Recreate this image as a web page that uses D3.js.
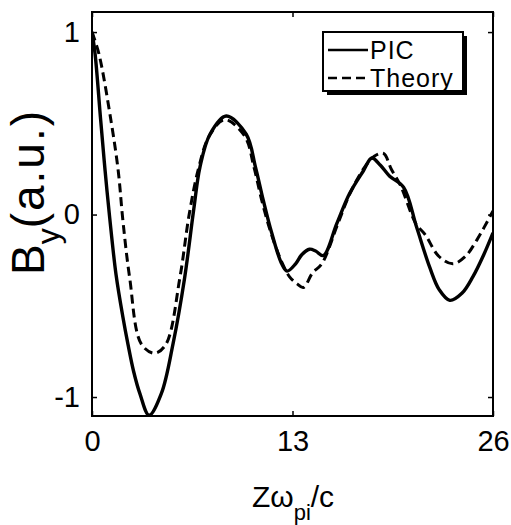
<!DOCTYPE html>
<html>
<head>
<meta charset="utf-8">
<script src="https://cdn.jsdelivr.net/npm/d3@7"></script>
<style>
  html, body { margin: 0; padding: 0; background: #fff; }
  svg text { font-family: "Liberation Sans", Arial, Helvetica, sans-serif; fill: #000; }
</style>
</head>
<body>
<svg id="chart" width="511" height="525"></svg>
<script>
// z * omega_pi / c  vs  B_y (a.u.)
const picZ = [0, 0.2, 0.56, 0.85, 1.15, 1.56, 2.0, 2.33, 2.7, 3.1, 3.7, 4.5, 5.25, 6.0, 6.6, 7.0, 7.65, 8.7,
  10.0, 10.6, 11.1, 11.65, 12.3, 12.65, 13.2, 13.6, 14.1, 14.5, 15.0, 15.87, 16.7, 17.6, 18.14, 18.7,
  19.3, 20.2, 21.05, 21.9, 22.5, 23.2, 24.0, 24.7, 25.4, 26];
const picB = [1.0, 0.88, 0.52, 0.24, -0.02, -0.33, -0.56, -0.71, -0.86, -0.98, -1.10, -0.98, -0.71, -0.35, 0.03, 0.26, 0.44, 0.54,
  0.44, 0.26, 0.08, -0.10, -0.27, -0.31, -0.27, -0.22, -0.19, -0.20, -0.225, -0.05, 0.115, 0.24, 0.31, 0.27,
  0.21, 0.15, -0.07, -0.29, -0.41, -0.47, -0.43, -0.34, -0.22, -0.10];

const theoryZ = [0, 0.45, 1.23, 1.7, 2.0, 2.44, 3.2, 4.07, 4.8, 5.7, 6.3, 6.9, 7.6, 8.6, 9.9, 10.5, 11.0,
  11.6, 12.3, 12.8, 13.3, 13.7, 14.3, 14.9, 15.9, 16.7, 17.6, 18.3, 18.9, 19.4, 20.0, 21.0, 21.6,
  22.5, 23.4, 24.2, 24.95, 26];
const theoryB = [1.0, 0.88, 0.515, 0.24, -0.03, -0.345, -0.71, -0.76, -0.71, -0.345, 0.0, 0.25, 0.43, 0.52, 0.43, 0.26, 0.08,
  -0.10, -0.26, -0.34, -0.38, -0.40, -0.32, -0.27, -0.06, 0.11, 0.25, 0.32, 0.335, 0.25, 0.16, -0.05, -0.11,
  -0.23, -0.27, -0.23, -0.14, 0.02];

const xTicks = [0, 13, 26];
const yTicks = [-1, 0, 1];
const legendLabels = ["PIC", "Theory"];

const svg = d3.select("#chart");

const x = d3.scaleLinear().domain([0, 26]).range([92, 493]);
const y = d3.scaleLinear().domain([-1.104, 1.11]).range([416, 12]);

const picData = picZ.map((z, i) => ({ z: z, b: picB[i] }));
const theoryData = theoryZ.map((z, i) => ({ z: z, b: theoryB[i] }));

svg.append("clipPath").attr("id", "plotclip")
  .append("rect")
  .attr("x", x(0)).attr("y", y(1.11))
  .attr("width", x(26) - x(0)).attr("height", y(-1.104) - y(1.11));

const line = d3.line()
  .x(d => x(d.z))
  .y(d => y(d.b))
  .curve(d3.curveCatmullRom.alpha(0.5));

const plot = svg.append("g").attr("clip-path", "url(#plotclip)");

plot.append("path")
  .datum(theoryData)
  .attr("fill", "none")
  .attr("stroke", "#000")
  .attr("stroke-width", 3)
  .attr("stroke-dasharray", "9,5")
  .attr("d", line);

plot.append("path")
  .datum(picData)
  .attr("fill", "none")
  .attr("stroke", "#000")
  .attr("stroke-width", 3.4)
  .attr("d", line);

// axes, ticks pointing inward
function styleAxis(g) {
  g.select(".domain").remove();
  g.selectAll(".tick line").attr("stroke", "#000").attr("stroke-width", 1.5);
  g.selectAll(".tick text").style("font-size", "29px");
}

svg.append("g")
  .attr("transform", `translate(0,${y(-1.104)})`)
  .call(d3.axisBottom(x).tickValues(xTicks).tickSizeInner(-5).tickSizeOuter(0).tickPadding(14))
  .call(styleAxis);

svg.append("g")
  .attr("transform", `translate(0,${y(1.11)})`)
  .call(d3.axisTop(x).tickValues(xTicks).tickSizeInner(-5).tickSizeOuter(0).tickFormat(""))
  .call(styleAxis);

svg.append("g")
  .attr("transform", `translate(${x(0)},0)`)
  .call(d3.axisLeft(y).tickValues(yTicks).tickSizeInner(-5).tickSizeOuter(0).tickPadding(12).tickFormat(d3.format("d")))
  .call(styleAxis)
  .call(g => g.selectAll(".tick text").text(d => d < 0 ? "-" + Math.abs(d) : d));

svg.append("g")
  .attr("transform", `translate(${x(26)},0)`)
  .call(d3.axisRight(y).tickValues(yTicks).tickSizeInner(-5).tickSizeOuter(0).tickFormat(""))
  .call(styleAxis);

// frame
svg.append("rect")
  .attr("x", x(0)).attr("y", y(1.11))
  .attr("width", x(26) - x(0)).attr("height", y(-1.104) - y(1.11))
  .attr("fill", "none")
  .attr("stroke", "#000")
  .attr("stroke-width", 2);

// legend with drop shadow
const lg = svg.append("g").attr("transform", "translate(323,32)");
lg.append("rect").attr("x", 4).attr("y", 4).attr("width", 140).attr("height", 59).attr("fill", "#000");
lg.append("rect").attr("x", 0).attr("y", 0).attr("width", 140).attr("height", 59)
  .attr("fill", "#fff").attr("stroke", "#000").attr("stroke-width", 2);

legendLabels.forEach((label, i) => {
  const ly = 18 + i * 28;
  lg.append("line")
    .attr("x1", 5).attr("x2", 45).attr("y1", ly).attr("y2", ly)
    .attr("stroke", "#000").attr("stroke-width", 2.5)
    .attr("stroke-dasharray", i === 1 ? "9,5" : null);
  lg.append("text")
    .attr("x", 47).attr("y", ly + 9)
    .style("font-size", "25px")
    .style("letter-spacing", "1px")
    .text(label);
});

// axis titles
const xt = svg.append("text")
  .attr("x", 293).attr("y", 507)
  .attr("text-anchor", "middle")
  .style("font-size", "30px");
xt.append("tspan").text("Z\u03c9");
xt.append("tspan").attr("dy", 13).style("font-size", "22px").text("pi");
xt.append("tspan").attr("dy", -13).text("/c");

const yt = svg.append("text")
  .attr("transform", "translate(44,192) rotate(-90)")
  .attr("text-anchor", "middle")
  .style("font-size", "46px");
yt.append("tspan").text("B");
yt.append("tspan").attr("dy", 15).style("font-size", "32px").text("y");
yt.append("tspan").attr("dy", -15).style("letter-spacing", "2px").text("(a.u.)");
</script>
</body>
</html>
